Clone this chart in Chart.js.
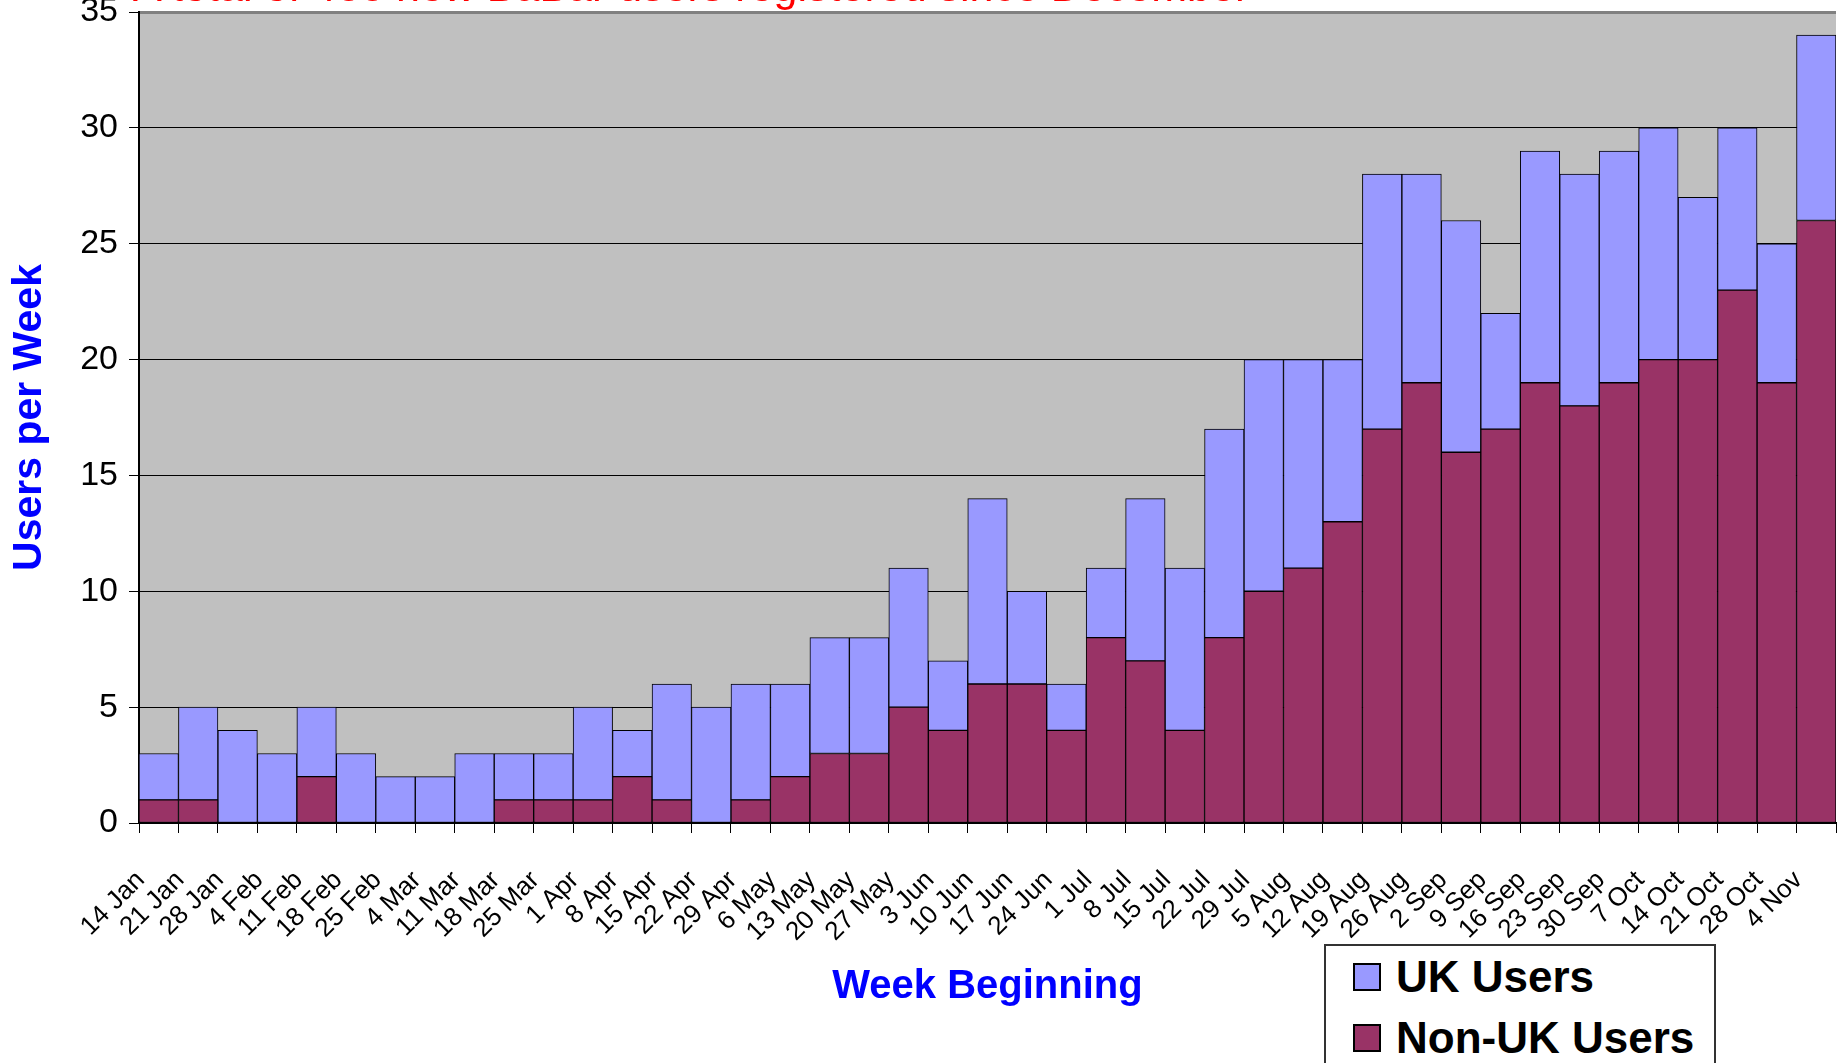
<!DOCTYPE html>
<html>
<head>
<meta charset="utf-8">
<title>Usuarios BaBar por semana</title>
<script src="https://cdn.jsdelivr.net/npm/chart.js@4.4.1/dist/chart.umd.min.js"></script>
<style>
  html, body { margin: 0; padding: 0; background: #fff; overflow: hidden; }
  #contenedor { position: relative; width: 1843px; height: 1063px; overflow: hidden; }
  #titulo {
    position: absolute; left: 133px; top: -35px;
    font: 43px/42px "Liberation Sans", Arial, sans-serif;
    color: #ff0000; white-space: nowrap;
  }
  #leyenda {
    position: absolute; left: 1324px; top: 944px; width: 388px; height: 150px;
    border: 2px solid #333; background: #fff;
    font: bold 44px/48px "Liberation Sans", Arial, sans-serif; color: #000;
  }
  .item { position: absolute; left: 27px; height: 48px; display: flex; align-items: center; white-space: nowrap; }
  .caja { width: 28px; height: 28px; border: 2px solid #000; box-sizing: border-box; margin-right: 15px; }
</style>
</head>
<body>
<div id="contenedor">
  <canvas id="grafica" width="1843" height="1063"></canvas>
  <div id="titulo">A total of 466 new BaBar users registered since December</div>
  <div id="leyenda"></div>
</div>
<script>
// ✅ Datos
const semanas = [
  "14 Jan", "21 Jan", "28 Jan", "4 Feb", "11 Feb", "18 Feb", "25 Feb", "4 Mar", "11 Mar",
  "18 Mar", "25 Mar", "1 Apr", "8 Apr", "15 Apr", "22 Apr", "29 Apr", "6 May", "13 May",
  "20 May", "27 May", "3 Jun", "10 Jun", "17 Jun", "24 Jun", "1 Jul", "8 Jul", "15 Jul",
  "22 Jul", "29 Jul", "5 Aug", "12 Aug", "19 Aug", "26 Aug", "2 Sep", "9 Sep", "16 Sep",
  "23 Sep", "30 Sep", "7 Oct", "14 Oct", "21 Oct", "28 Oct", "4 Nov"
];
const usuariosNoUK = [1, 1, 0, 0, 2, 0, 0, 0, 0, 1, 1, 1, 2, 1, 0, 1, 2, 3, 3, 5, 4, 6, 6, 4, 8, 7, 4, 8, 10, 11, 13, 17, 19, 16, 17, 19, 18, 19, 20, 20, 23, 19, 26];
const usuariosUK   = [2, 4, 4, 3, 3, 3, 2, 2, 3, 2, 2, 4, 2, 5, 5, 5, 4, 5, 5, 6, 3, 8, 4, 2, 3, 7, 7, 9, 10, 9, 7, 11, 9, 10, 5, 10, 10, 10, 10, 7, 7, 6, 8];
const ejeYMax = 35;
const ejeYPaso = 5;

const fuente = "'Liberation Sans', Arial, sans-serif";

// Fondo gris del área de trazado
const fondoGrafica = {
  id: "fondoGrafica",
  beforeDraw(chart) {
    const { ctx, chartArea: a } = chart;
    ctx.save();
    ctx.fillStyle = "#C0C0C0";
    ctx.fillRect(a.left, a.top, a.right - a.left, a.bottom - a.top);
    ctx.restore();
  }
};

const grafica = new Chart(document.getElementById("grafica"), {
  type: "bar",
  data: {
    labels: semanas,
    datasets: [
      {
        label: "Non-UK Users",
        data: usuariosNoUK,
        backgroundColor: "#993366",
        borderColor: "#000",
        borderWidth: 1,
        borderSkipped: false
      },
      {
        label: "UK Users",
        data: usuariosUK,
        backgroundColor: "#9999FF",
        borderColor: "#000",
        borderWidth: 1,
        borderSkipped: false
      }
    ]
  },
  options: {
    responsive: false,
    animation: false,
    layout: { padding: { top: 12, right: 7, left: 0, bottom: 0 } },
    datasets: { bar: { barPercentage: 1, categoryPercentage: 1 } },
    plugins: {
      legend: { display: false },
      tooltip: { enabled: false }
    },
    scales: {
      x: {
        stacked: true,
        grid: { offset: true, drawOnChartArea: false, color: "#000", tickLength: 10 },
        border: { color: "#000", width: 2 },
        ticks: {
          autoSkip: false,
          minRotation: 45,
          maxRotation: 45,
          padding: 32,
          labelOffset: -18,
          color: "#000",
          font: { family: fuente, size: 26 }
        },
        title: {
          display: true,
          text: "Week Beginning",
          color: "#0000FF",
          font: { family: fuente, size: 40, weight: "bold" },
          padding: { top: 0, bottom: 52 }
        },
        afterFit: s => {
          s.height = 240;
          s.paddingLeft = 0;
          s.paddingRight = 0;
        }
      },
      y: {
        stacked: true,
        min: 0,
        max: ejeYMax,
        ticks: {
          stepSize: ejeYPaso,
          padding: 11,
          color: "#000",
          font: { family: fuente, size: 34 }
        },
        grid: {
          color: c => (c.tick && c.tick.value === ejeYMax ? "#808080" : "#000"),
          lineWidth: c => (c.tick && c.tick.value === ejeYMax ? 3 : 1),
          tickColor: "#000",
          tickWidth: 1,
          tickLength: 10
        },
        border: { color: "#000", width: 2 },
        title: {
          display: true,
          text: "Users per Week",
          color: "#0000FF",
          font: { family: fuente, size: 41, weight: "bold" },
          padding: { top: 5, bottom: 0 }
        },
        afterFit: s => {
          s.width = 139;
          s.paddingTop = 0;
          s.paddingBottom = 0;
        }
      }
    }
  },
  plugins: [fondoGrafica]
});

// Leyenda en HTML (UK arriba, Non-UK abajo)
const leyenda = document.getElementById("leyenda");
grafica.data.datasets.slice().reverse().forEach((ds, i) => {
  const item = document.createElement("div");
  item.className = "item";
  item.style.top = (7 + i * 61) + "px";
  item.innerHTML = `<span class="caja" style="background:${ds.backgroundColor}"></span><span>${ds.label}</span>`;
  leyenda.appendChild(item);
});
</script>
</body>
</html>
